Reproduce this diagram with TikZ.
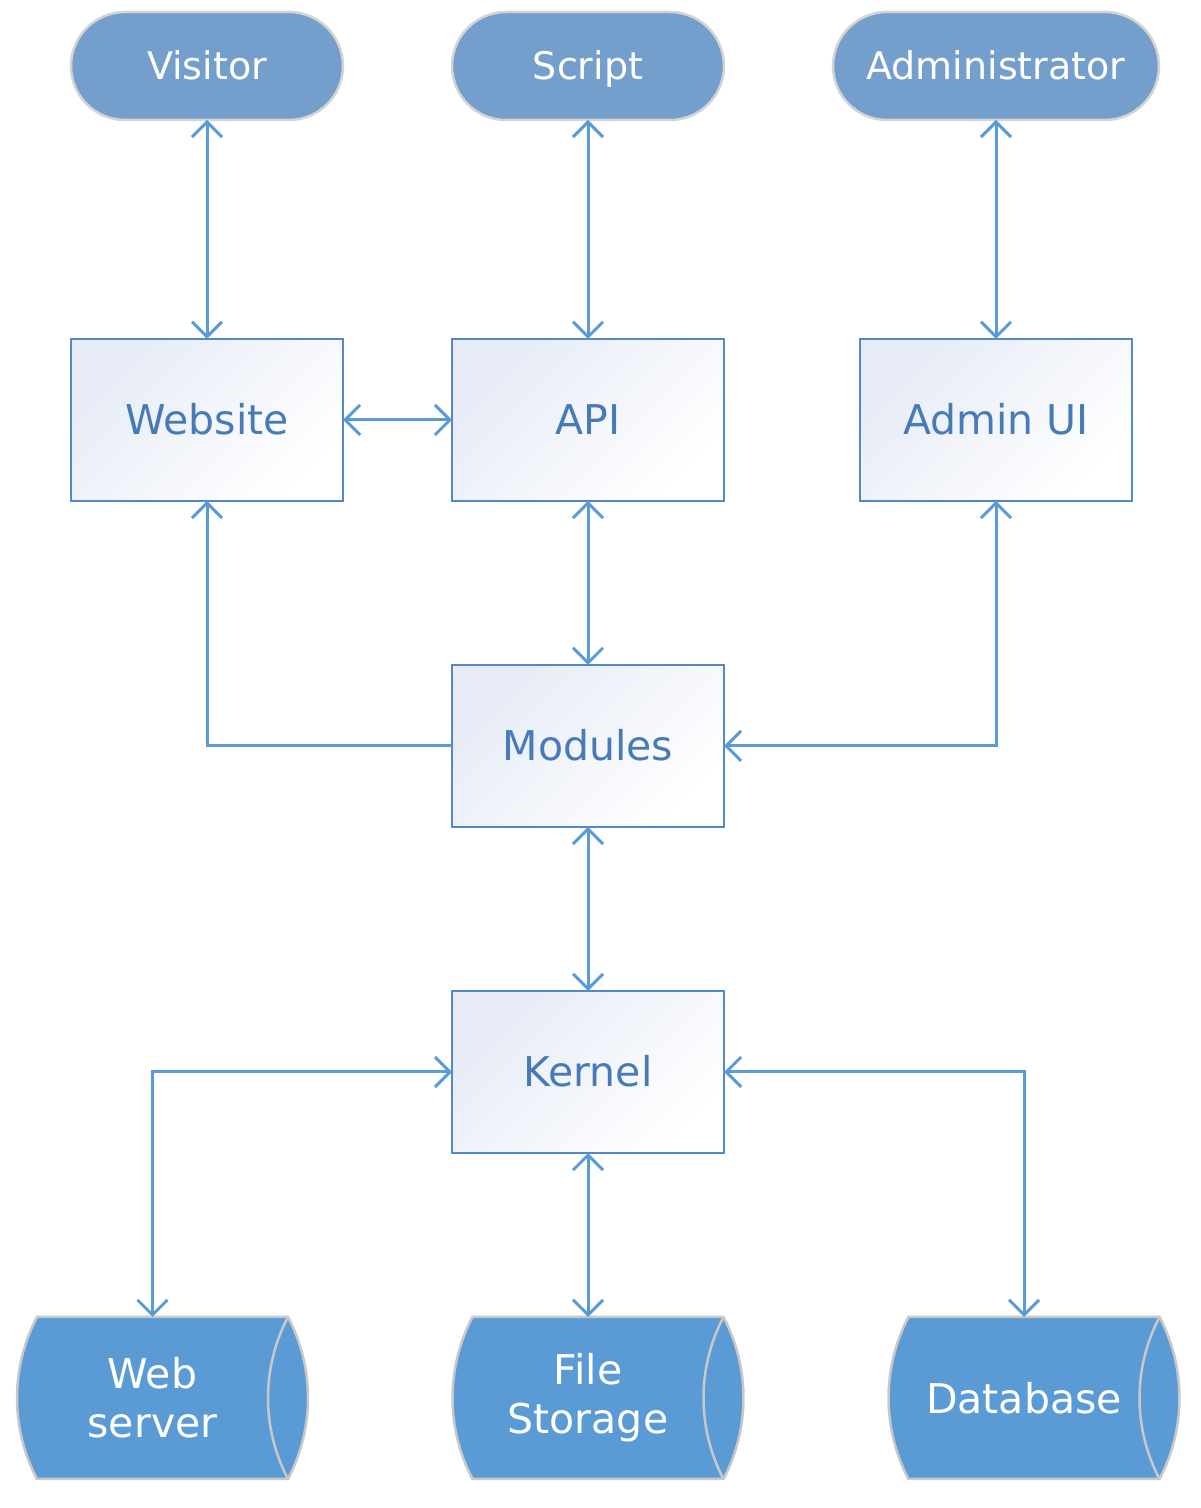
\documentclass[tikz,border=0pt]{standalone}
\usepackage{fontspec}
\setmainfont{DejaVu Sans}
\usepackage{xcolor}
\usepackage{tikz}
\usetikzlibrary{arrows.meta,positioning,backgrounds}

\definecolor{termfill}{RGB}{116,159,205}
\definecolor{termline}{RGB}{212,212,212}
\definecolor{storefill}{RGB}{91,155,213}
\definecolor{storeline}{RGB}{200,200,200}
\definecolor{boxline}{RGB}{84,136,198}
\definecolor{boxtint}{RGB}{230,235,246}
\definecolor{boxtext}{RGB}{70,123,184}
\definecolor{linkblue}{RGB}{91,155,213}

% outline of a stored-data shape round a node
\newcommand{\storeshape}[1]{%
  \filldraw[fill=storefill, draw=storeline, line width=2.5pt]
    ([xshift=20pt]#1.north west) -- (#1.north east)
    arc[start angle=27.74, end angle=-27.74, radius=174pt]
    -- ([xshift=20pt]#1.south west)
    arc[start angle=207.74, end angle=152.26, radius=174pt] -- cycle;
  \draw[draw=storeline, line width=2.5pt] (#1.north east)
    arc[start angle=152.26, end angle=207.74, radius=174pt];}

\begin{document}
\begin{tikzpicture}[x=1pt, y=1pt,
    >={Straight Barb[length=15pt,width=30pt]},
    term/.style={rectangle, rounded corners=54pt, draw=termline, line width=2.5pt, outer sep=0pt, fill=termfill, minimum width=272pt, minimum height=108pt, text height=28pt, text depth=0pt, text=white, font=\fontsize{38}{46}\selectfont},
    box/.style={rectangle, draw=boxline, line width=2.5pt, outer sep=0pt, minimum width=272pt, minimum height=162pt, text height=30pt, text depth=0pt, top color=boxtint, middle color=boxtint!35!white, bottom color=white, shading angle=45, text=boxtext, font=\fontsize{41}{49}\selectfont},
    store/.style={rectangle, inner sep=0pt, outer sep=0pt, minimum width=271pt, minimum height=162pt, text=white, align=center, font=\fontsize{41}{49}\selectfont},
    link/.style={draw=linkblue, line width=3pt, <->},
    linkone/.style={draw=linkblue, line width=3pt, ->}]
    \useasboundingbox (0,0) rectangle (1200,1508);

    % middle layer
    \node[box] (website) at (207,1088) {Website};
    \node[box, right=109pt of website] (api) {API};
    \node[box, right=136pt of api] (adminui) {Admin UI};
    \node[box, below=164pt of api] (modules) {Modules};
    \node[box, below=164pt of modules] (kernel) {Kernel};

    % users
    \node[term, above=219pt of website] (visitor) {Visitor};
    \node[term, above=219pt of api] (script) {Script};
    \node[term, minimum width=326pt, above=219pt of adminui] (admin) {Administrator};

    % storage
    \node[store, below=164pt of kernel, xshift=-435.5pt] (webserver) {Web\\server};
    \node[store, below=164pt of kernel] (filestore) {File\\Storage};
    \node[store, below=164pt of kernel, xshift=436pt] (database) {Database};
    \begin{scope}[on background layer]
        \storeshape{webserver}
        \storeshape{filestore}
        \storeshape{database}
    \end{scope}

    \draw[link] (visitor.south) -- (website.north);
    \draw[link] (script.south) -- (api.north);
    \draw[link] (admin.south) -- (adminui.north);
    \draw[link] (website.east) -- (api.west);
    \draw[link] (api.south) -- (modules.north);
    \draw[linkone] (modules.west) -| (website.south);
    \draw[link] (modules.east) -| (adminui.south);
    \draw[link] (modules.south) -- (kernel.north);
    \draw[link] (kernel.west) -| (webserver.north);
    \draw[link] (kernel.south) -- (filestore.north);
    \draw[link] (kernel.east) -| (database.north);
\end{tikzpicture}
\end{document}
